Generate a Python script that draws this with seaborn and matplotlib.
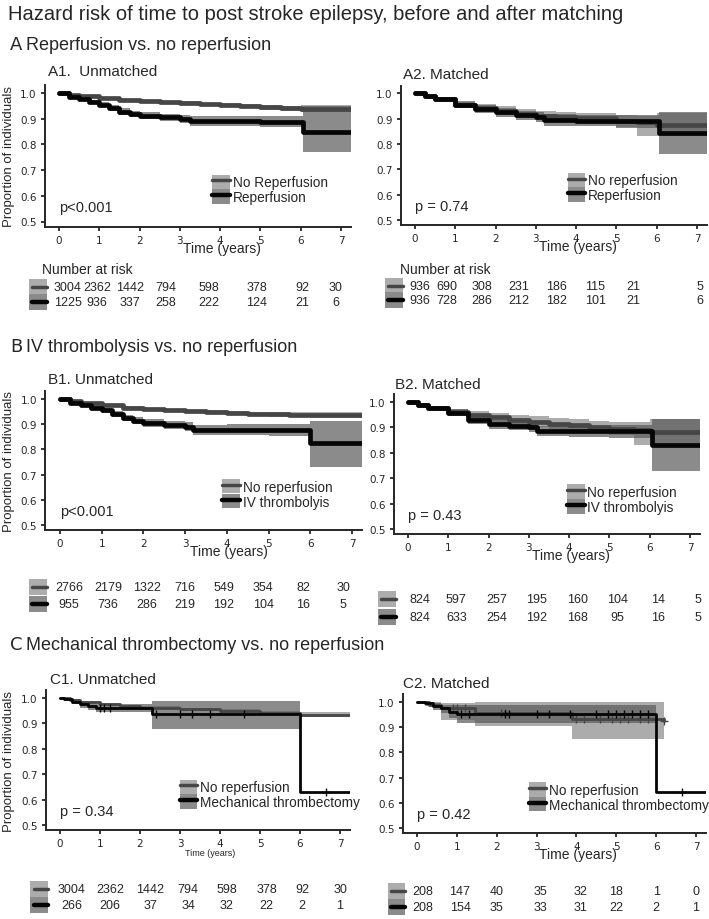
import numpy as np
import matplotlib
matplotlib.use("Agg")
import matplotlib.pyplot as plt
import matplotlib.transforms as mtransforms
from matplotlib.patches import Rectangle, Patch
from matplotlib.lines import Line2D
from matplotlib.legend_handler import HandlerTuple
import seaborn as sns

# --- 1. Values ---
# A1 unmatched: no reperfusion vs reperfusion
a1_nr_t = [0, 0.25, 0.5, 1.0, 1.5, 2.0, 2.5, 3.0, 3.5, 4.0, 4.5, 5.0, 5.5, 6.0, 7.25]
a1_nr_s = [1.0, 0.993, 0.987, 0.979, 0.973, 0.968, 0.965, 0.962, 0.957, 0.953, 0.948, 0.944, 0.941, 0.938, 0.938]
a1_nr_lo = [1.0, 0.990, 0.983, 0.975, 0.968, 0.963, 0.960, 0.956, 0.951, 0.946, 0.940, 0.935, 0.931, 0.925, 0.925]
a1_nr_hi = [1.0, 0.996, 0.991, 0.983, 0.978, 0.973, 0.970, 0.968, 0.963, 0.960, 0.956, 0.953, 0.951, 0.952, 0.952]
a1_tr_t = [0, 0.25, 0.5, 0.75, 1.0, 1.25, 1.5, 1.75, 2.0, 2.5, 3.0, 3.25, 4.0, 5.0, 6.05, 7.25]
a1_tr_s = [1.0, 0.985, 0.975, 0.965, 0.955, 0.942, 0.928, 0.918, 0.912, 0.905, 0.900, 0.891, 0.890, 0.889, 0.848, 0.848]
a1_tr_lo = [1.0, 0.980, 0.968, 0.957, 0.946, 0.931, 0.916, 0.905, 0.898, 0.890, 0.884, 0.872, 0.870, 0.866, 0.770, 0.770]
a1_tr_hi = [1.0, 0.990, 0.982, 0.973, 0.964, 0.953, 0.940, 0.931, 0.926, 0.920, 0.916, 0.910, 0.910, 0.912, 0.950, 0.950]

# A2 matched
a2_nr_t = [0, 0.25, 0.5, 1.0, 1.5, 2.0, 2.5, 3.0, 3.5, 4.0, 5.0, 5.5, 6.0, 7.25]
a2_nr_s = [1.0, 0.990, 0.978, 0.955, 0.943, 0.932, 0.920, 0.912, 0.906, 0.901, 0.892, 0.888, 0.876, 0.876]
a2_nr_lo = [1.0, 0.985, 0.970, 0.942, 0.928, 0.915, 0.902, 0.893, 0.886, 0.880, 0.868, 0.833, 0.830, 0.830]
a2_nr_hi = [1.0, 0.995, 0.986, 0.967, 0.957, 0.948, 0.938, 0.930, 0.925, 0.922, 0.915, 0.910, 0.922, 0.922]
a2_tr_t = [0, 0.25, 0.5, 1.0, 1.5, 2.0, 2.5, 3.0, 3.2, 4.0, 5.0, 6.05, 7.25]
a2_tr_s = [1.0, 0.990, 0.978, 0.955, 0.938, 0.925, 0.913, 0.905, 0.895, 0.892, 0.890, 0.845, 0.845]
a2_tr_lo = [1.0, 0.985, 0.970, 0.942, 0.922, 0.908, 0.895, 0.885, 0.872, 0.870, 0.865, 0.760, 0.760]
a2_tr_hi = [1.0, 0.995, 0.986, 0.968, 0.954, 0.942, 0.931, 0.925, 0.918, 0.915, 0.913, 0.925, 0.925]

# B1 unmatched: no reperfusion vs IV thrombolysis
b1_nr_t = [0, 0.25, 0.5, 1.0, 1.5, 2.0, 2.5, 3.0, 3.5, 4.0, 4.5, 5.0, 5.5, 6.0, 7.25]
b1_nr_s = [1.0, 0.993, 0.986, 0.975, 0.966, 0.960, 0.956, 0.952, 0.949, 0.946, 0.942, 0.939, 0.937, 0.935, 0.935]
b1_nr_lo = [1.0, 0.990, 0.982, 0.971, 0.961, 0.955, 0.950, 0.946, 0.942, 0.939, 0.934, 0.930, 0.927, 0.924, 0.924]
b1_nr_hi = [1.0, 0.996, 0.990, 0.979, 0.971, 0.965, 0.962, 0.958, 0.956, 0.953, 0.950, 0.948, 0.947, 0.948, 0.948]
b1_tr_t = [0, 0.25, 0.5, 0.75, 1.0, 1.25, 1.5, 1.75, 2.0, 2.5, 3.0, 3.2, 4.0, 5.0, 6.0, 7.25]
b1_tr_s = [1.0, 0.985, 0.975, 0.966, 0.955, 0.940, 0.925, 0.913, 0.905, 0.897, 0.890, 0.878, 0.878, 0.877, 0.826, 0.826]
b1_tr_lo = [1.0, 0.980, 0.967, 0.957, 0.945, 0.928, 0.912, 0.899, 0.890, 0.881, 0.873, 0.858, 0.856, 0.854, 0.732, 0.732]
b1_tr_hi = [1.0, 0.990, 0.983, 0.975, 0.965, 0.952, 0.938, 0.927, 0.920, 0.913, 0.907, 0.898, 0.900, 0.900, 0.914, 0.914]

# B2 matched
b2_nr_t = [0, 0.25, 0.5, 1.0, 1.5, 2.0, 2.5, 3.0, 3.5, 4.0, 4.5, 5.0, 5.6, 6.0, 7.25]
b2_nr_s = [1.0, 0.990, 0.978, 0.960, 0.950, 0.940, 0.930, 0.921, 0.915, 0.908, 0.900, 0.895, 0.890, 0.882, 0.882]
b2_nr_lo = [1.0, 0.985, 0.970, 0.948, 0.935, 0.922, 0.911, 0.900, 0.893, 0.885, 0.876, 0.870, 0.832, 0.830, 0.830]
b2_nr_hi = [1.0, 0.995, 0.986, 0.972, 0.965, 0.958, 0.950, 0.943, 0.938, 0.932, 0.926, 0.922, 0.920, 0.935, 0.935]
b2_tr_t = [0, 0.25, 0.5, 1.0, 1.5, 2.0, 2.5, 3.0, 3.2, 4.0, 5.0, 6.05, 7.25]
b2_tr_s = [1.0, 0.990, 0.978, 0.958, 0.930, 0.913, 0.907, 0.900, 0.885, 0.885, 0.884, 0.832, 0.832]
b2_tr_lo = [1.0, 0.985, 0.970, 0.945, 0.913, 0.895, 0.888, 0.880, 0.865, 0.863, 0.860, 0.730, 0.730]
b2_tr_hi = [1.0, 0.995, 0.986, 0.971, 0.947, 0.931, 0.926, 0.920, 0.905, 0.907, 0.908, 0.934, 0.934]

# C1 unmatched: no reperfusion vs mechanical thrombectomy
c1_nr_t = [0, 0.25, 0.5, 1.0, 1.5, 2.0, 3.0, 4.0, 5.0, 6.0, 7.25]
c1_nr_s = [1.0, 0.993, 0.986, 0.975, 0.968, 0.962, 0.955, 0.948, 0.941, 0.934, 0.932]
c1_nr_lo = [1.0, 0.990, 0.982, 0.970, 0.963, 0.957, 0.949, 0.941, 0.933, 0.924, 0.922]
c1_nr_hi = [1.0, 0.996, 0.990, 0.980, 0.973, 0.967, 0.961, 0.955, 0.949, 0.944, 0.942]
c1_tr_t = [0, 0.1, 0.3, 0.5, 0.7, 0.9, 2.3, 6.0, 7.25]
c1_tr_s = [1.0, 0.995, 0.985, 0.978, 0.970, 0.962, 0.938, 0.628, 0.628]
c1_tr_lo = [1.0, 0.990, 0.975, 0.962, 0.952, 0.945, 0.879, 0.879, np.nan]
c1_tr_hi = [1.0, 1.0, 0.995, 0.990, 0.985, 0.978, 0.990, 0.990, np.nan]
c1_tr_cens = [1.0, 1.1, 1.25, 2.4, 3.0, 3.3, 3.75, 4.6, 6.65]

# C2 matched
c2_nr_t = [0, 0.3, 0.6, 1.45, 3.9, 6.2]
c2_nr_s = [1.0, 0.990, 0.975, 0.958, 0.932, 0.925]
c2_nr_lo = [1.0, 0.980, 0.930, 0.905, 0.852, 0.852]
c2_nr_hi = [1.0, 1.0, 0.997, 1.0, 1.0, 1.0]
c2_nr_cens = [0.9, 1.0, 1.2, 2.1, 2.2, 4.0, 4.2, 4.6, 4.9, 5.1, 5.3, 5.6, 5.8, 6.2]
c2_tr_t = [0, 0.2, 0.4, 0.6, 0.8, 1.0, 6.0, 7.25]
c2_tr_s = [1.0, 0.995, 0.985, 0.975, 0.962, 0.954, 0.641, 0.641]
c2_tr_lo = [1.0, 0.985, 0.970, 0.955, 0.935, 0.918, 0.918, np.nan]
c2_tr_hi = [1.0, 1.0, 0.995, 0.990, 0.987, 0.987, 0.987, np.nan]
c2_tr_cens = [1.1, 1.3, 2.2, 2.3, 3.0, 3.3, 3.85, 4.5, 4.8, 5.0, 5.2, 5.4, 5.6, 5.8, 6.65]

# number at risk at years 0..7
risk_a1 = [[3004, 2362, 1442, 794, 598, 378, 92, 30], [1225, 936, 337, 258, 222, 124, 21, 6]]
risk_a2 = [[936, 690, 308, 231, 186, 115, 21, 5], [936, 728, 286, 212, 182, 101, 21, 6]]
risk_b1 = [[2766, 2179, 1322, 716, 549, 354, 82, 30], [955, 736, 286, 219, 192, 104, 16, 5]]
risk_b2 = [[824, 597, 257, 195, 160, 104, 14, 5], [824, 633, 254, 192, 168, 95, 16, 5]]
risk_c1 = [[3004, 2362, 1442, 794, 598, 378, 92, 30], [266, 206, 37, 34, 32, 22, 2, 1]]
risk_c2 = [[208, 147, 40, 35, 32, 18, 1, 0], [208, 154, 35, 33, 31, 22, 2, 1]]

p_values = ["p<0.001", "p = 0.74", "p<0.001", "p = 0.43", "p = 0.34", "p = 0.42"]
x_ticks = [0, 1, 2, 3, 4, 5, 6, 7]
y_ticks = [0.5, 0.6, 0.7, 0.8, 0.9, 1.0]

# --- 2. Style ---
sns.set_style("ticks")
plt.rcParams['font.family'] = ['Liberation Sans', 'DejaVu Sans']

NR_LINE, TR_LINE = '#464646', '#050505'
NR_BAND, TR_BAND = '#808080', '#5a5a5a'
NR_SWATCH, TR_SWATCH = '#acacac', '#8b8b8b'

W, H = 709, 920
fig = plt.figure(figsize=(W / 100, H / 100), dpi=100)
XLIM, YLIM = (-0.35, 7.25), (0.48, 1.03)

# layout per panel: tick0 px, tick7 px, y=1.0 px, y=0.5 px, title pos, legend anchor, risk rows, columns
panels = [
    dict(geo=(59, 341, 94, 222.5), title="A1.  Unmatched", tpos=(48, 72), leg=(0.547, 0.264),
         labels=["No Reperfusion", "Reperfusion"], risk=risk_a1, rows=(288, 303),
         cols=[0.22, 0.95, 1.76, 2.65, 3.72, 4.91, 6.03, 6.87], header=(42, 270),
         nr=(a1_nr_t, a1_nr_s, a1_nr_lo, a1_nr_hi, None), tr=(a1_tr_t, a1_tr_s, a1_tr_lo, a1_tr_hi, None)),
    dict(geo=(415, 697, 94.3, 221), title="A2. Matched", tpos=(403, 75), leg=(0.545, 0.27),
         labels=["No reperfusion", "Reperfusion"], risk=risk_a2, rows=(287, 301),
         cols=[0.12, 0.78, 1.66, 2.58, 3.52, 4.47, 5.41, 7.07], header=(400, 270),
         nr=(a2_nr_t, a2_nr_s, a2_nr_lo, a2_nr_hi, None), tr=(a2_tr_t, a2_tr_s, a2_tr_lo, a2_tr_hi, None)),
    dict(geo=(60, 352, 400, 526), title="B1. Unmatched", tpos=(48, 380), leg=(0.558, 0.262),
         labels=["No reperfusion", "IV thrombolyis"], risk=risk_b1, rows=(588, 605),
         cols=[0.22, 1.15, 2.09, 3.0, 3.93, 4.87, 5.83, 6.79], header=None,
         nr=(b1_nr_t, b1_nr_s, b1_nr_lo, b1_nr_hi, None), tr=(b1_tr_t, b1_tr_s, b1_tr_lo, b1_tr_hi, None)),
    dict(geo=(408, 690, 403, 530), title="B2. Matched", tpos=(395, 385), leg=(0.565, 0.25),
         labels=["No reperfusion", "IV thrombolyis"], risk=risk_b2, rows=(600, 618),
         cols=[0.3, 1.2, 2.2, 3.2, 4.2, 5.2, 6.2, 7.2], header=None,
         nr=(b2_nr_t, b2_nr_s, b2_nr_lo, b2_nr_hi, None), tr=(b2_tr_t, b2_tr_s, b2_tr_lo, b2_tr_hi, None)),
    dict(geo=(60, 340, 699, 826), title="C1. Unmatched", tpos=(50, 680), leg=(0.44, 0.256),
         labels=["No reperfusion", "Mechanical thrombectomy"], risk=risk_c1, rows=(890, 906),
         cols=[0.3, 1.25, 2.25, 3.2, 4.17, 5.17, 6.05, 7.0], header=None,
         nr=(c1_nr_t, c1_nr_s, c1_nr_lo, c1_nr_hi, None), tr=(c1_tr_t, c1_tr_s, c1_tr_lo, c1_tr_hi, c1_tr_cens)),
    dict(geo=(417, 696, 703, 829), title="C2. Matched", tpos=(403, 684), leg=(0.415, 0.26),
         labels=["No reperfusion", "Mechanical thrombectomy"], risk=risk_c2, rows=(892, 908),
         cols=[0.15, 1.08, 2.0, 3.1, 4.1, 5.0, 6.0, 7.0], header=None,
         nr=(c2_nr_t, c2_nr_s, c2_nr_lo, c2_nr_hi, c2_nr_cens), tr=(c2_tr_t, c2_tr_s, c2_tr_lo, c2_tr_hi, c2_tr_cens)),
]


def draw_curve(ax, curve, line_color, band_color, band_alpha, lw):
    t, s, lo, hi, cens = curve
    t, s = np.asarray(t, float), np.asarray(s, float)
    lo, hi = np.asarray(lo, float), np.asarray(hi, float)
    ok = ~np.isnan(lo)
    ax.fill_between(t[ok], lo[ok], hi[ok], step='post', color=band_color, alpha=band_alpha, lw=0)
    sns.lineplot(x=t, y=s, drawstyle='steps-post', color=line_color, lw=lw,
                 estimator=None, sort=False, ax=ax, legend=False)
    if cens is not None:
        idx = np.searchsorted(t, cens, side='right') - 1
        ax.plot(cens, s[idx], ls='none', marker='+', ms=6, mew=1.0, color=line_color)


for i, p in enumerate(panels):
    t0, t7, y1, y05 = p['geo']
    sx = (t7 - t0) / 7.0
    sy = (y05 - y1) / 0.5
    left = t0 + XLIM[0] * sx
    right = t0 + XLIM[1] * sx
    top = y1 - (YLIM[1] - 1.0) * sy
    bottom = y05 + (0.5 - YLIM[0]) * sy
    ax = fig.add_axes([left / W, 1 - bottom / H, (right - left) / W, (bottom - top) / H])

    lw_main = 2.0 if i >= 4 else 3.4
    draw_curve(ax, p['nr'], NR_LINE, NR_BAND, 0.65, lw_main)
    draw_curve(ax, p['tr'], TR_LINE, TR_BAND, 0.7, lw_main)

    ax.set_xlim(*XLIM)
    ax.set_ylim(*YLIM)
    ax.set_xticks(x_ticks)
    ax.set_yticks(y_ticks)
    ax.set_yticklabels([f"{v:.1f}" for v in y_ticks])
    ax.tick_params(axis='both', length=3, width=1.1, labelsize=7.5, pad=3, color='black')
    for lab in ax.get_xticklabels() + ax.get_yticklabels():
        lab.set_fontfamily('DejaVu Sans')
    sns.despine(ax=ax)
    for sp in ('left', 'bottom'):
        ax.spines[sp].set_linewidth(1.4)

    # time label sits just under the tick labels, overlapping them as in the original
    if i == 4:
        ax.set_xlabel("Time (years)", fontsize=6.5)
        ax.xaxis.set_label_coords((3.75 - XLIM[0]) / (XLIM[1] - XLIM[0]), -0.13)
    else:
        ax.set_xlabel("Time (years)", fontsize=10)
        ax.xaxis.set_label_coords((4.05 - XLIM[0]) / (XLIM[1] - XLIM[0]), -0.1)
    ax.set_ylabel("")

    ax.text(0.0, 0.556, p_values[i], fontsize=10.5, ha='left', va='center')

    handles = [(Patch(facecolor=NR_SWATCH, edgecolor='none'), Line2D([], [], color=NR_LINE, lw=2.5)),
               (Patch(facecolor=TR_SWATCH, edgecolor='none'), Line2D([], [], color=TR_LINE, lw=3.2))]
    ax.legend(handles, p['labels'], handler_map={tuple: HandlerTuple(ndivide=1, pad=0)},
              loc='center left', bbox_to_anchor=p['leg'], frameon=False, borderpad=0,
              borderaxespad=0, handlelength=1.3, handleheight=1.25, handletextpad=0.2,
              labelspacing=0.0, fontsize=9.8)

    fig.text(p['tpos'][0] / W, 1 - p['tpos'][1] / H, p['title'], fontsize=11, va='center', ha='left')

    # number-at-risk table under the panel
    trans = mtransforms.blended_transform_factory(ax.transData, fig.transFigure)
    if p['header'] is not None:
        fig.text(p['header'][0] / W, 1 - p['header'][1] / H, "Number at risk", fontsize=10,
                 va='center', ha='left')
    rh = 15.5 / H
    for row, ypx, sw, lc, lwr in zip(p['risk'], p['rows'], (NR_SWATCH, TR_SWATCH),
                                      (NR_LINE, TR_LINE), (2.5, 3.2)):
        yf = 1 - ypx / H
        fig.add_artist(Rectangle((-0.74, yf - rh / 2), 0.44, rh, transform=trans,
                                 facecolor=sw, edgecolor='none'))
        fig.add_artist(Line2D([-0.66, -0.3], [yf, yf], transform=trans, color=lc, lw=lwr))
        for x, v in zip(p['cols'], row):
            fig.text(x, yf, str(v), transform=trans, fontsize=9, ha='center', va='center')

# y labels for the left column
for yc in (157, 462, 761):
    fig.text(9 / W, 1 - yc / H, "Proportion of individuals", rotation=90, fontsize=9.5,
             ha='center', va='center')

# titles and section headers
fig.text(8 / W, 1 - 14 / H, "Hazard risk of time to post stroke epilepsy, before and after matching",
         fontsize=14.5, va='center', ha='left')
sections = [("A", "Reperfusion vs. no reperfusion", 45),
            ("B", "IV thrombolysis vs. no reperfusion", 347),
            ("C", "Mechanical thrombectomy vs. no reperfusion", 645)]
for letter, text, ypx in sections:
    fig.text(10 / W, 1 - ypx / H, letter, fontsize=13, va='center', ha='left', family='DejaVu Sans')
    fig.text(26 / W, 1 - ypx / H, text, fontsize=13, va='center', ha='left')

fig.savefig("out.png", dpi=100)
